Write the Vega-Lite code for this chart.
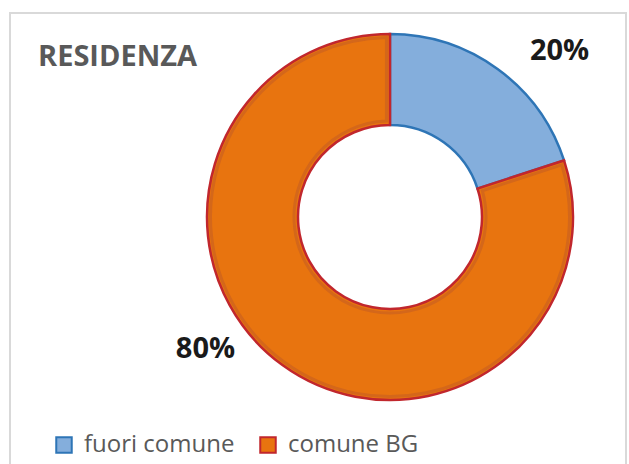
{
  "$schema": "https://vega.github.io/schema/vega-lite/v6.json",
  "width": 629,
  "height": 464,
  "autosize": {"type": "fit", "contains": "padding"},
  "padding": {"left": 10, "top": 11, "right": 3, "bottom": -2},
  "background": "white",
  "view": {"stroke": "#D9D9D9", "strokeWidth": 2},
  "title": {
    "text": "RESIDENZA",
    "anchor": "start",
    "frame": "group",
    "orient": "top",
    "font": "Open Sans",
    "fontSize": 29,
    "fontWeight": "bold",
    "color": "#595959",
    "baseline": "alphabetic",
    "dx": 28,
    "dy": 88
  },
  "data": {
    "values": [
      {"cat": "fuori comune", "value": 20, "label": "20%", "ord": 1},
      {"cat": "comune BG", "value": 80, "label": "80%", "ord": 2}
    ]
  },
  "encoding": {
    "theta": {"field": "value", "type": "quantitative", "stack": true},
    "order": {"field": "ord", "type": "quantitative"}
  },
  "layer": [
    {
      "mark": {"type": "arc", "radius": 183, "radius2": 92, "x": 380, "y": 204, "strokeWidth": 2.5},
      "encoding": {
        "fill": {
          "field": "cat", "type": "nominal",
          "scale": {"domain": ["fuori comune", "comune BG"], "range": ["#84AEDC", "#E8740F"]},
          "legend": {
            "orient": "none", "legendX": 42, "legendY": 420, "direction": "horizontal",
            "title": null, "symbolType": "square", "symbolSize": 240, "symbolStrokeWidth": 2,
            "labelFont": "Open Sans", "labelFontSize": 24, "labelColor": "#595959",
            "columnPadding": 21, "labelOffset": 8
          }
        },
        "stroke": {
          "field": "cat", "type": "nominal",
          "scale": {"domain": ["fuori comune", "comune BG"], "range": ["#2E75B6", "#C1272D"]},
          "legend": null
        }
      }
    },
    {
      "mark": {"type": "arc", "radius": 179.5, "radius2": 96, "x": 380, "y": 204, "strokeWidth": 3, "padAngle": 0.035},
      "encoding": {
        "fill": {"condition": {"test": "datum.cat === 'comune BG'", "value": "#E8740F"}, "value": "transparent"},
        "stroke": {"condition": {"test": "datum.cat === 'comune BG'", "value": "#D4671A"}, "value": "transparent"}
      }
    },
    {
      "mark": {"type": "text", "radius": 200, "x": 380, "y": 204, "dx": 52, "dy": -4, "font": "Open Sans", "fontSize": 29, "fontWeight": "bold", "fill": "#1A1A1A"},
      "encoding": {
        "text": {"condition": {"test": "datum.cat === 'fuori comune'", "field": "label"}, "value": ""}
      }
    },
    {
      "mark": {"type": "text", "radius": 200, "x": 380, "y": 204, "dx": -67, "dy": -30, "font": "Open Sans", "fontSize": 29, "fontWeight": "bold", "fill": "#1A1A1A"},
      "encoding": {
        "text": {"condition": {"test": "datum.cat === 'comune BG'", "field": "label"}, "value": ""}
      }
    }
  ]
}
